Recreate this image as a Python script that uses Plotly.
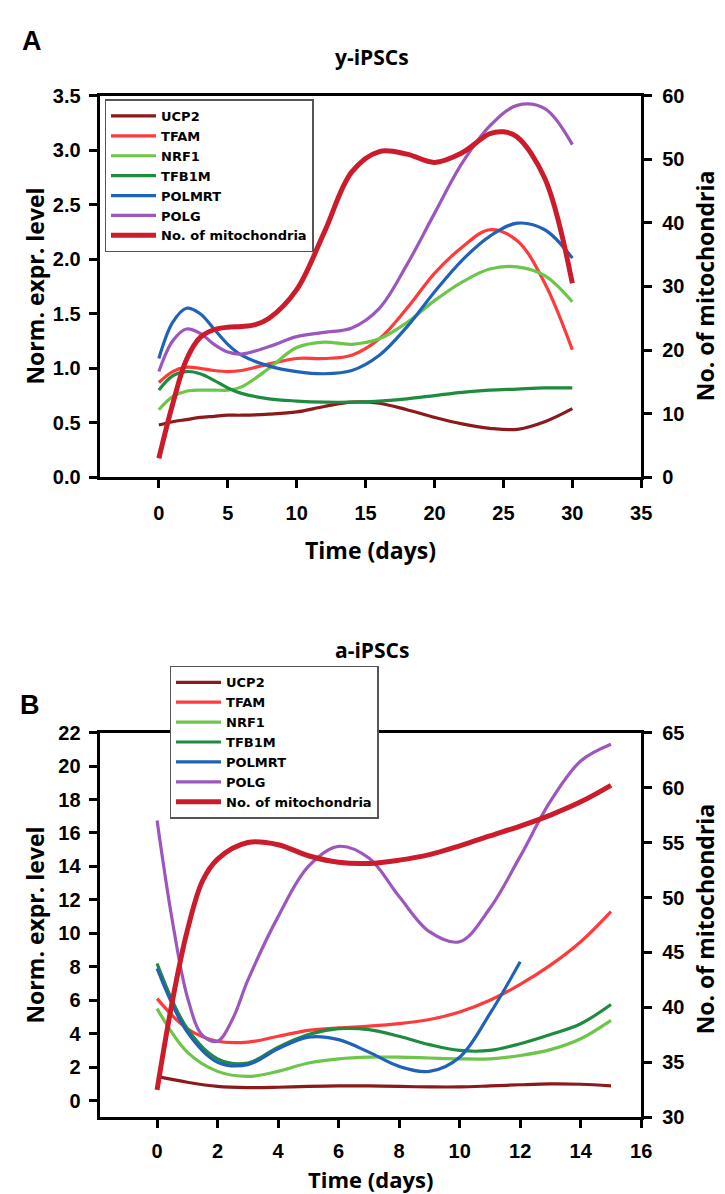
import plotly.graph_objects as go

W, H = 725, 1194

# ---------------- Panel A (y-iPSCs) ----------------
a_days = [0, 1, 2, 3, 4, 5, 6, 8, 10, 12, 14, 16, 18, 20, 22, 24, 26, 28, 30]
a_ucp2 = [0.48, 0.51, 0.53, 0.55, 0.56, 0.57, 0.57, 0.58, 0.60, 0.65, 0.69, 0.68, 0.62, 0.55, 0.49, 0.45, 0.44, 0.51, 0.63]
a_tfam = [0.87, 0.97, 1.01, 1.00, 0.98, 0.97, 0.98, 1.04, 1.09, 1.09, 1.12, 1.27, 1.55, 1.87, 2.11, 2.27, 2.17, 1.78, 1.17]
a_nrf1 = [0.62, 0.74, 0.79, 0.80, 0.80, 0.80, 0.83, 1.00, 1.19, 1.24, 1.22, 1.27, 1.42, 1.62, 1.79, 1.91, 1.93, 1.85, 1.61]
a_tfb1m = [0.80, 0.93, 0.97, 0.95, 0.89, 0.82, 0.77, 0.72, 0.70, 0.69, 0.69, 0.70, 0.72, 0.75, 0.78, 0.80, 0.81, 0.82, 0.82]
a_polmrt = [1.09, 1.42, 1.55, 1.50, 1.36, 1.22, 1.12, 1.02, 0.97, 0.95, 0.98, 1.12, 1.38, 1.70, 1.99, 2.21, 2.33, 2.27, 2.01]
a_polg = [0.97, 1.25, 1.36, 1.32, 1.22, 1.15, 1.13, 1.20, 1.29, 1.33, 1.37, 1.55, 1.95, 2.42, 2.88, 3.22, 3.41, 3.38, 3.05]
a_mito_days = [0, 1, 2, 3, 4, 5, 6, 7, 8, 10, 12, 14, 16, 18, 20, 22, 24, 25, 26, 28, 30]
a_mito = [3.0, 11.5, 18.5, 22.0, 23.2, 23.6, 23.7, 24.0, 25.0, 29.5, 38.5, 48.0, 51.2, 50.8, 49.5, 51.0, 54.0, 54.3, 53.5, 47.0, 30.5]

# ---------------- Panel B (a-iPSCs) ----------------
b_days = [0, 1, 2, 3, 4, 5, 6, 7, 8, 9, 10, 11, 12, 13, 14, 15]
b_ucp2 = [1.45, 1.10, 0.85, 0.78, 0.80, 0.85, 0.88, 0.88, 0.85, 0.82, 0.82, 0.88, 0.95, 1.00, 0.98, 0.88]
b_tfam = [6.1, 4.3, 3.55, 3.5, 3.85, 4.2, 4.35, 4.45, 4.6, 4.85, 5.3, 6.0, 6.95, 8.1, 9.5, 11.3]
b_nrf1 = [5.5, 2.9, 1.75, 1.45, 1.75, 2.25, 2.5, 2.6, 2.6, 2.55, 2.5, 2.5, 2.7, 3.05, 3.7, 4.8]
b_tfb1m = [8.2, 4.3, 2.5, 2.25, 3.2, 3.95, 4.3, 4.25, 3.85, 3.35, 3.0, 3.0, 3.4, 3.95, 4.6, 5.75]
b_polmrt_days = [0, 1, 2, 3, 4, 5, 6, 7, 8, 9, 10, 11, 12]
b_polmrt = [7.9, 4.1, 2.3, 2.15, 3.1, 3.8, 3.65, 2.9, 2.05, 1.75, 2.6, 5.2, 8.3]
b_polg_days = [0, 0.5, 1, 1.5, 2, 2.5, 3, 4, 5, 6, 7, 8, 9, 10, 11, 12, 13, 14, 15]
b_polg = [16.75, 10.8, 6.2, 3.9, 3.55, 4.9, 7.2, 11.0, 14.0, 15.2, 14.5, 12.2, 10.1, 9.5, 11.5, 14.6, 17.9, 20.3, 21.3]
b_mito_days = [0, 0.5, 1, 1.5, 2, 3, 4, 5, 6, 7, 8, 9, 10, 11, 12, 13, 14, 15]
b_mito = [32.5, 40.5, 47.0, 51.5, 53.5, 55.0, 54.8, 53.8, 53.2, 53.1, 53.4, 53.9, 54.7, 55.6, 56.5, 57.5, 58.7, 60.2]

names = ["UCP2", "TFAM", "NRF1", "TFB1M", "POLMRT", "POLG", "No. of mitochondria"]
colors = ["#8B1A1A", "#FF3A3A", "#6CC64A", "#1E8B3E", "#2062B8", "#9B57BE", "#CC1B2B"]

TICKFONT = dict(family="Liberation Sans, Arial, sans-serif", size=20, color="black", weight="bold")
TITLEFONT = dict(family="Open Sans, Liberation Sans, sans-serif", size=23, color="black", weight="bold")
LEGFONT = dict(family="DejaVu Sans, sans-serif", size=13, color="black", weight="bold")

fig = go.Figure()


def add_series(xs, ys, i, xa, ya, legend):
    fig.add_trace(go.Scatter(
        x=xs, y=ys, name=names[i], mode="lines",
        line=dict(color=colors[i], width=5 if i == 6 else 3.2, shape="spline", smoothing=1.0),
        xaxis=xa, yaxis=ya, legend=legend,
    ))


a_series = [a_ucp2, a_tfam, a_nrf1, a_tfb1m, a_polmrt, a_polg]
for i, ys in enumerate(a_series):
    add_series(a_days, ys, i, "x", "y", "legend")
add_series(a_mito_days, a_mito, 6, "x", "y2", "legend")

b_list = [(b_days, b_ucp2), (b_days, b_tfam), (b_days, b_nrf1), (b_days, b_tfb1m),
          (b_polmrt_days, b_polmrt), (b_polg_days, b_polg)]
for i, (xs, ys) in enumerate(b_list):
    add_series(xs, ys, i, "x2", "y3", "legend2")
add_series(b_mito_days, b_mito, 6, "x2", "y4", "legend2")


def px_x(p):
    return p / W


def px_y(p):
    return 1 - p / H


axis_common = dict(showline=True, linecolor="black", linewidth=3, ticks="outside",
                   ticklen=8, tickwidth=2.5, tickcolor="black", showgrid=False,
                   zeroline=False, tickfont=TICKFONT)

xdom = [px_x(93), px_x(643)]
fig.update_layout(
    width=W, height=H,
    margin=dict(l=0, r=0, t=0, b=0),
    paper_bgcolor="white", plot_bgcolor="white",
    showlegend=True,
    xaxis=dict(domain=xdom, anchor="y", range=[-4.3, 35], tickvals=[0, 5, 10, 15, 20, 25, 30, 35],
               mirror=True, ticklabelstandoff=8, **axis_common),
    yaxis=dict(domain=[px_y(467), px_y(78)], anchor="x", range=[0, 3.5], dtick=0.5,
               tickformat=".1f", ticklabelstandoff=4, **axis_common),
    yaxis2=dict(overlaying="y", side="right", anchor="x", range=[0, 60], dtick=10,
                ticklabelstandoff=6, **axis_common),
    xaxis2=dict(domain=xdom, anchor="y3", range=[-1.9, 16], tickvals=list(range(0, 17, 2)),
                mirror=True, ticklabelstandoff=6, **axis_common),
    yaxis3=dict(domain=[px_y(1119), px_y(727)], anchor="x2", range=[-1, 22],
                tickvals=list(range(0, 23, 2)), ticklabelstandoff=4, **axis_common),
    yaxis4=dict(overlaying="y3", side="right", anchor="x2", range=[30, 65], dtick=5,
                ticklabelstandoff=6, **axis_common),
    legend=dict(x=px_x(98), y=px_y(82), xanchor="left", yanchor="top", bgcolor="white",
                bordercolor="#555", borderwidth=1.5, font=LEGFONT, tracegroupgap=0, itemwidth=45),
    legend2=dict(x=px_x(164), y=px_y(659), xanchor="left", yanchor="top", bgcolor="white",
                 bordercolor="#555", borderwidth=1.5, font=LEGFONT, tracegroupgap=0, itemwidth=45),
)

ann = [
    dict(text="A", x=px_x(24), y=px_y(22), font=dict(family="Liberation Sans", size=27, color="black", weight="bold")),
    dict(text="B", x=px_x(22), y=px_y(699), font=dict(family="Liberation Sans", size=27, color="black", weight="bold")),
    dict(text="y-iPSCs", x=px_x(370), y=px_y(39), font=dict(TITLEFONT, size=21)),
    dict(text="a-iPSCs", x=px_x(370), y=px_y(643), font=dict(TITLEFONT, size=21)),
    dict(text="Time (days)", x=px_x(368), y=px_y(541), font=TITLEFONT),
    dict(text="Time (days)", x=px_x(368), y=px_y(1182), font=dict(TITLEFONT, size=22)),
    dict(text="Norm. expr. level", x=px_x(27), y=px_y(272), textangle=-90, font=TITLEFONT),
    dict(text="Norm. expr. level", x=px_x(27), y=px_y(923), textangle=-90, font=TITLEFONT),
    dict(text="No. of mitochondria", x=px_x(708), y=px_y(272), textangle=-90, font=TITLEFONT),
    dict(text="No. of mitochondria", x=px_x(708), y=px_y(917), textangle=-90, font=TITLEFONT),
]
for a in ann:
    a.update(xref="paper", yref="paper", showarrow=False, xanchor="center", yanchor="middle")
fig.update_layout(annotations=ann)

fig.write_html("out.html")
